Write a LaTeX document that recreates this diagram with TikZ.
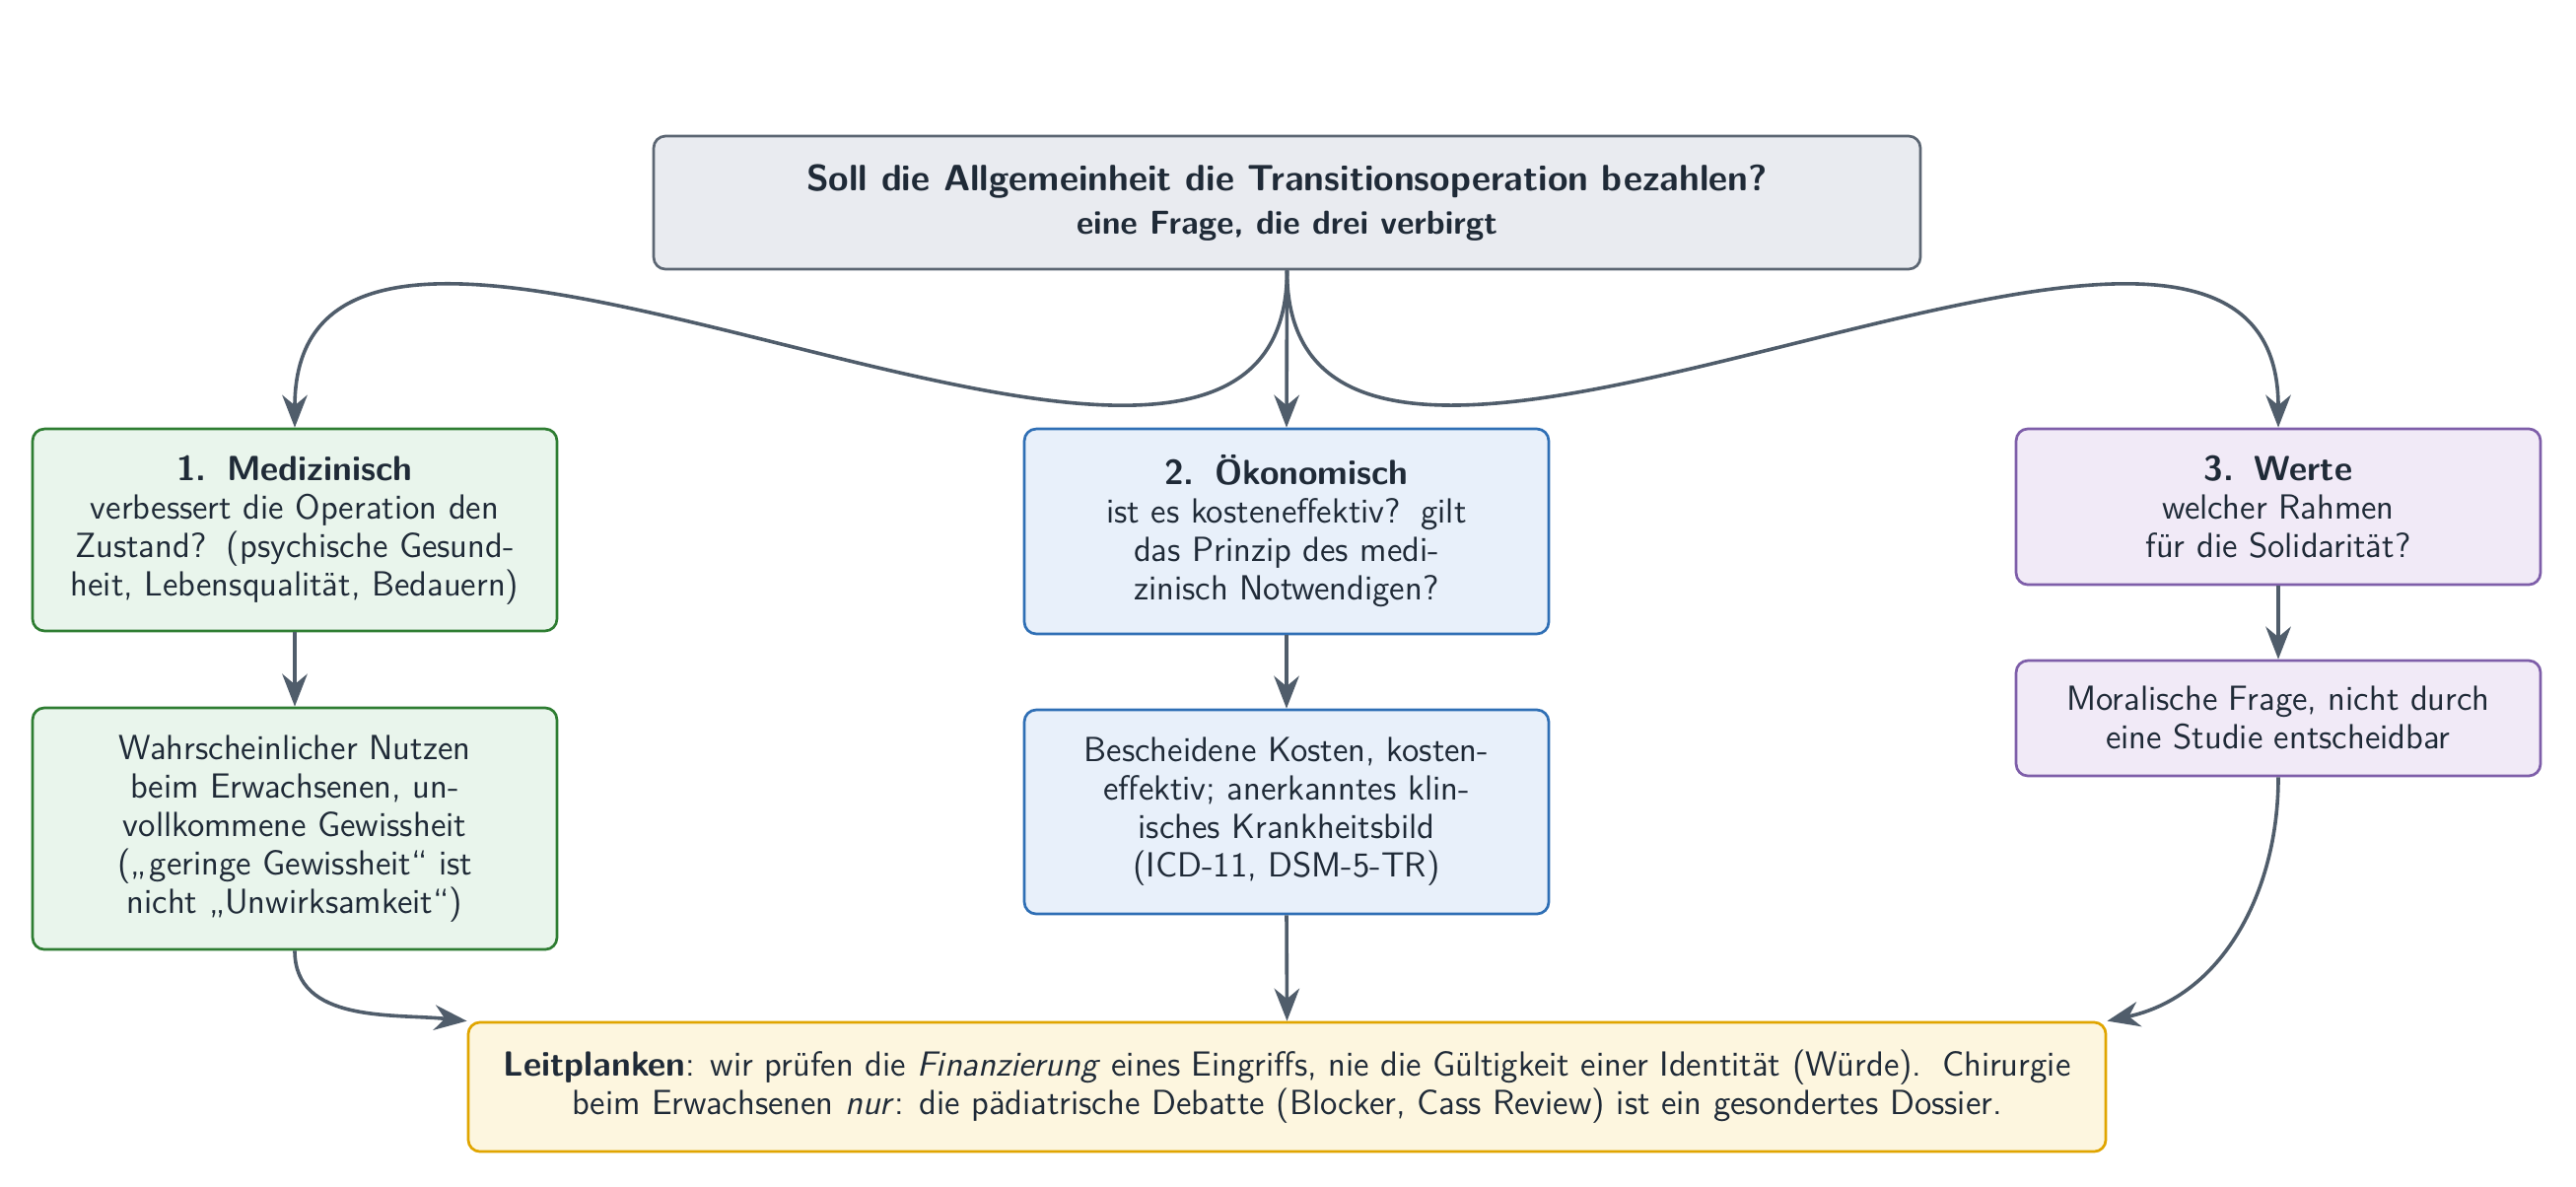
\documentclass[tikz,border=0pt]{standalone}
\usetikzlibrary{arrows.meta}
\definecolor{txt}{HTML}{1F2A37}
\definecolor{ln}{HTML}{505D6B}
\definecolor{topfill}{HTML}{E9EBF0}
\definecolor{topdraw}{HTML}{5C6673}
\definecolor{gfill}{HTML}{E9F5EC}
\definecolor{gdraw}{HTML}{2E7D32}
\definecolor{bfill}{HTML}{E8F0FA}
\definecolor{bdraw}{HTML}{2F6FB5}
\definecolor{pfill}{HTML}{F1EAF7}
\definecolor{pdraw}{HTML}{7E5EA9}
\definecolor{yfill}{HTML}{FDF6DF}
\definecolor{ydraw}{HTML}{E0A500}
\newcommand\sentsp{\hspace{0.58em}}
\begin{document}
\begin{tikzpicture}[x=0.33333pt,y=-0.33333pt,
  every node/.style={font=\sffamily\fontsize{11.8}{13}\selectfont, text=txt, align=center},
  box/.style={draw, rounded corners=4pt, line width=0.9pt, inner sep=0pt, minimum width=177.3pt},
  topbox/.style={box, fill=topfill, draw=topdraw, minimum width=428.3pt, minimum height=45pt},
  gbox/.style={box, fill=gfill, draw=gdraw},
  bbox/.style={box, fill=bfill, draw=bdraw},
  pbox/.style={box, fill=pfill, draw=pdraw},
  ybox/.style={box, fill=yfill, draw=ydraw, minimum width=553.7pt, minimum height=43.7pt},
  conn/.style={draw=ln, line width=1.2pt, -{Stealth[length=11pt,width=8.5pt,inset=3.5pt]}}]
\useasboundingbox (0,0) rectangle (2613,1203);

\node[topbox] (top) at (1305.5,205.5)
  {\fontsize{12.4}{15}\selectfont\bfseries Soll die Allgemeinheit die Transitionsoperation bezahlen?\\[1.5pt]
   \fontsize{11.2}{13}\selectfont\bfseries eine Frage, die drei verbirgt};

\node[gbox, minimum height=68.3pt] (m1) at (299,537.5)
  {\textbf{1.\sentsp Medizinisch}\\ verbessert die Operation den\\ Zustand?\sentsp(psychische Gesund-\\heit, Lebensqualität, Bedauern)};
\node[gbox, minimum height=81.7pt] (m1b) at (299,840.5)
  {Wahrscheinlicher Nutzen\\ beim Erwachsenen, un-\\ vollkommene Gewissheit\\ („geringe Gewissheit“ ist\\ nicht „Unwirksamkeit“)};

\node[bbox, minimum height=69.3pt] (m2) at (1305,539)
  {\textbf{2.\sentsp Ökonomisch}\\ ist es kosteneffektiv?\sentsp gilt\\ das Prinzip des medi-\\ zinisch Notwendigen?};
\node[bbox, minimum height=69pt] (m2b) at (1305,823.5)
  {Bescheidene Kosten, kosten-\\ effektiv; anerkanntes klin-\\ isches Krankheitsbild\\ (ICD-11, DSM-5-TR)};

\node[pbox, minimum height=52.7pt] (v1) at (2311,514)
  {\textbf{3.\sentsp Werte}\\ welcher Rahmen\\ für die Solidarität?};
\node[pbox, minimum height=39pt] (v1b) at (2311,728.5)
  {Moralische Frage, nicht durch\\ eine Studie entscheidbar};

\node[ybox] (bot) at (1305.5,1102.5)
  {\textbf{Leitplanken}: wir prüfen die \textit{Finanzierung} eines Eingriffs, nie die Gültigkeit einer Identität (Würde).\sentsp Chirurgie\\ beim Erwachsenen \textit{nur}: die pädiatrische Debatte (Blocker, Cass Review) ist ein gesondertes Dossier.};

\draw[conn] (top.south) to[out=-90,in=90] (m1.north);
\draw[conn] (top.south) -- (m2.north);
\draw[conn] (top.south) to[out=-90,in=90] (v1.north);
\draw[conn] (m1.south) -- (m1b.north);
\draw[conn] (m2.south) -- (m2b.north);
\draw[conn] (v1.south) -- (v1b.north);
\draw[conn] (m1b.south) to[out=-90,in=174] (bot.north west);
\draw[conn] (m2b.south) -- (bot.north);
\draw[conn] (v1b.south) to[out=-90,in=12] (bot.north east);
\end{tikzpicture}
\end{document}
